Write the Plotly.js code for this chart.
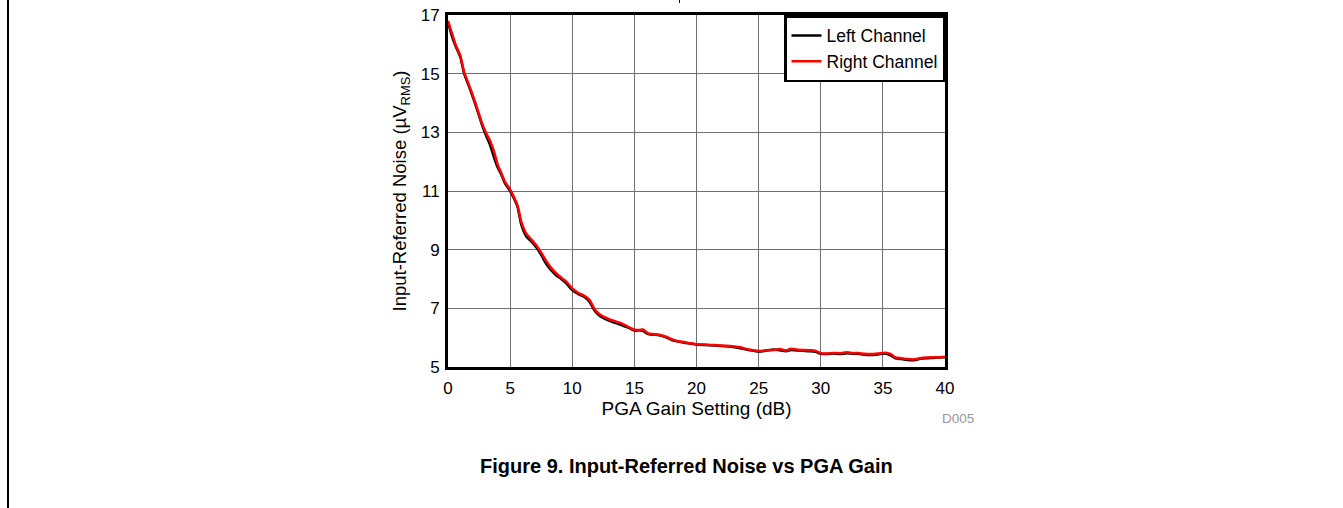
<!DOCTYPE html>
<html>
<head>
<meta charset="utf-8">
<script src="https://cdn.plot.ly/plotly-3.0.1.min.js"></script>
<style>
  html, body { margin: 0; padding: 0; background: #fff; }
  #wrap { position: relative; width: 1343px; height: 508px; }
  #chart { position: absolute; left: 0; top: 0; width: 1343px; height: 508px; }
  #edge { position: absolute; left: 7px; top: 0; width: 2px; height: 508px; background: #000; }
  #tick { position: absolute; left: 679px; top: 0; width: 1px; height: 3px; background: #000; }
</style>
</head>
<body>
<div id="wrap">
  <div id="chart"></div>
  <div id="edge"></div>
  <div id="tick"></div>
</div>
<script>
// PGA gain settings (dB)
const gainDb = [0,0.3,0.6,1.0,1.3,1.7,2.0,2.4,2.7,3.1,
  3.4,3.7,4.0,4.3,4.6,5.0,5.3,5.6,5.9,6.3,
  6.7,7.1,7.5,7.9,8.3,8.7,9.1,9.5,10.0,10.5,
  11.0,11.4,11.8,12.2,12.6,13.0,13.5,14.0,14.5,15.0,
  15.4,15.7,16.1,16.5,17.0,17.5,18.0,18.5,19.0,19.5,
  20.0,21.0,22.0,22.7,23.5,24.2,25.0,25.6,26.2,26.7,
  27.2,27.6,28.1,28.6,29.1,29.6,30.0,30.5,31.0,31.6,
  32.1,32.6,33.0,33.5,34.0,34.6,35.2,35.6,36.0,36.5,
  37.0,37.5,38.0,38.5,39.0,39.5,40.0];

// Input-referred noise, left channel (uVrms)
const leftChannel = [16.75,16.3,15.95,15.55,15.0,14.55,14.2,13.7,13.3,12.85,
  12.55,12.15,11.8,11.55,11.25,11.0,10.75,10.45,9.85,9.45,
  9.28,9.08,8.82,8.52,8.3,8.13,8.0,7.86,7.62,7.48,
  7.38,7.22,6.92,6.75,6.65,6.57,6.5,6.42,6.34,6.24,
  6.25,6.22,6.12,6.1,6.08,6.02,5.92,5.87,5.83,5.8,
  5.77,5.74,5.72,5.7,5.64,5.58,5.52,5.56,5.6,5.57,
  5.54,5.58,5.56,5.55,5.54,5.52,5.45,5.44,5.46,5.44,
  5.47,5.45,5.45,5.42,5.41,5.43,5.46,5.4,5.3,5.27,
  5.24,5.23,5.28,5.3,5.31,5.32,5.33];

// Input-referred noise, right channel (uVrms)
const rightChannel = [16.8,16.4,16.0,15.6,15.05,14.6,14.25,13.75,13.35,12.95,
  12.7,12.35,11.9,11.6,11.3,11.05,10.8,10.5,9.95,9.55,
  9.35,9.15,8.9,8.62,8.38,8.2,8.05,7.92,7.68,7.52,
  7.42,7.28,6.97,6.8,6.7,6.62,6.55,6.48,6.37,6.27,
  6.26,6.28,6.15,6.12,6.1,6.04,5.95,5.88,5.85,5.81,
  5.78,5.76,5.73,5.72,5.67,5.6,5.55,5.56,5.58,5.61,
  5.56,5.62,5.59,5.58,5.57,5.55,5.47,5.46,5.48,5.47,
  5.5,5.47,5.48,5.45,5.44,5.46,5.49,5.45,5.33,5.3,
  5.27,5.26,5.3,5.32,5.33,5.33,5.35];

const xTicks = [0,5,10,15,20,25,30,35,40];
const yTicks = [5,7,9,11,13,15,17];

const font = 'Arial, "Liberation Sans", Helvetica, sans-serif';

const traces = [
  { x: gainDb, y: leftChannel, name: 'Left Channel', type: 'scatter', mode: 'lines',
    line: { color: '#000000', width: 2.5, shape: 'spline', smoothing: 0.6 } },
  { x: gainDb, y: rightChannel, name: 'Right Channel', type: 'scatter', mode: 'lines',
    line: { color: '#ff0000', width: 2.5, shape: 'spline', smoothing: 0.6 } }
];

const layout = {
  width: 1343, height: 508,
  margin: { l: 448, r: 398, t: 15, b: 141, pad: 0 },
  paper_bgcolor: '#ffffff', plot_bgcolor: '#ffffff',
  font: { family: font, size: 17, color: '#000' },
  showlegend: true,
  legend: {
    x: 1, y: 1, xanchor: 'right', yanchor: 'top',
    bgcolor: '#ffffff', bordercolor: '#000000', borderwidth: 2.5,
    font: { family: font, size: 17.5, color: '#000' },
    tracegroupgap: 0, itemwidth: 30
  },
  xaxis: {
    range: [0, 40], tickvals: xTicks, ticktext: xTicks.map(String),
    showgrid: true, gridcolor: '#707070', gridwidth: 1,
    showline: true, linecolor: '#000', linewidth: 3, mirror: true,
    ticks: '', zeroline: false, ticklabelstandoff: 4,
    tickfont: { family: font, size: 17, color: '#000' },
    title: { text: 'PGA Gain Setting (dB)', font: { family: font, size: 19, color: '#000' }, standoff: 2 }
  },
  yaxis: {
    range: [5, 17], tickvals: yTicks, ticktext: yTicks.map(String),
    showgrid: true, gridcolor: '#707070', gridwidth: 1,
    showline: true, linecolor: '#000', linewidth: 3, mirror: true,
    ticks: '', zeroline: false, ticklabelstandoff: 2,
    tickfont: { family: font, size: 17, color: '#000' },
    title: { text: 'Input-Referred Noise (µV<sub>RMS</sub>)', font: { family: font, size: 18.5, color: '#000' }, standoff: 10 }
  },
  annotations: [
    { text: 'D005', xref: 'paper', yref: 'paper', x: 1.027, y: -0.145,
      xanchor: 'center', yanchor: 'middle', showarrow: false,
      font: { family: font, size: 13.5, color: '#999999' } },
    { text: '<b>Figure 9. Input-Referred Noise vs PGA Gain</b>', xref: 'paper', yref: 'paper',
      x: 0.480, y: -0.28, xanchor: 'center', yanchor: 'middle', showarrow: false,
      font: { family: font, size: 20, color: '#000' } }
  ]
};

Plotly.newPlot('chart', traces, layout, { staticPlot: true, displayModeBar: false });
</script>
</body>
</html>
